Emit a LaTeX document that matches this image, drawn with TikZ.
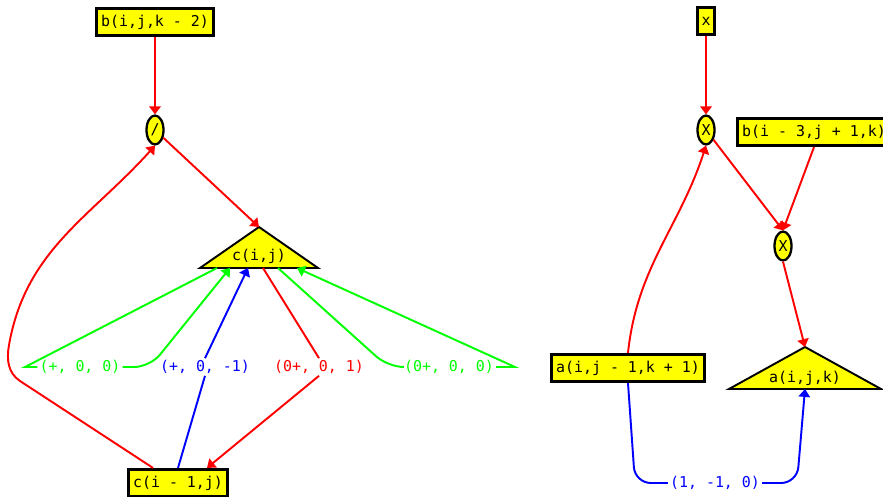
\documentclass[tikz,border=0pt]{standalone}
\usepackage{fontspec}
\setmonofont{DejaVu Sans Mono}
\usepackage{tikz}
\usetikzlibrary{
  arrows.meta,
  shapes.geometric,
  calc
}
\definecolor{boxyellow}{RGB}{255,255,0}
\definecolor{depred}{RGB}{255,0,0}
\definecolor{depgreen}{RGB}{0,255,0}
\definecolor{depblue}{RGB}{0,0,255}
\newcommand{\depfont}{\ttfamily\fontsize{8.5}{10}\selectfont}
\tikzset{
  arraybox/.style={draw, line width=1.8pt, fill=boxyellow,
    inner xsep=2.5pt, inner ysep=0pt, minimum height=0.54cm,
    font=\depfont},
  opnode/.style={draw, ellipse, line width=1.3pt, fill=boxyellow,
    inner sep=0pt, minimum width=0.34cm, minimum height=0.58cm,
    font=\depfont},
  tribox/.style={draw=black, line width=1.1pt, fill=boxyellow},
  tritext/.style={font=\depfont, inner sep=1pt},
  deplabel/.style={font=\depfont, inner sep=1pt},
  redline/.style={draw=depred, line width=1.1pt},
  greenline/.style={draw=depgreen, line width=1.1pt},
  blueline/.style={draw=depblue, line width=1.1pt},
  arr/.style={-{Triangle[length=4.5pt,width=6.5pt]}},
}

\begin{document}
\begin{tikzpicture}[x=0.02cm, y=0.02cm]
  \useasboundingbox (0,0) rectangle (883,-497);

  % Left statement: c(i,j)
  \node[arraybox] (bk) at (155,-22) {b(i,j,k - 2)};
  \node[opnode] (div) at (155,-130) {/};
  \coordinate (ctop) at (259,-227);
  \coordinate (cbase) at (259,-268);
  \filldraw[tribox] (ctop) -- ($(cbase)+(-59,0)$) -- ($(cbase)+(59,0)$) -- cycle;
  \node[tritext] (cij) at (259,-256) {c(i,j)};
  \node[arraybox] (cim) at (178,-483) {c(i - 1,j)};

  % Distance vectors
  \node[deplabel, text=depgreen] (dpp) at (80,-367) {(+, 0, 0)};
  \node[deplabel, text=depblue] (dpm) at (205,-367) {(+, 0, -1)};
  \node[deplabel, text=depred] (dzp) at (319,-367) {(0+, 0, 1)};
  \node[deplabel, text=depgreen] (dzz) at (449,-367) {(0+, 0, 0)};

  % Flow edges
  \draw[redline, arr] (bk) -- (div);
  \draw[redline, arr] (div) -- (ctop);
  \draw[redline, arr] ($(cim.north)+(-25,0)$) -- (20,-381)
    to[out=146, in=-100] (9,-345) to[out=80, in=-132] (div.south);

  % Dependences
  \draw[greenline] ($(cbase)+(-42,0)$) -- (25,-367) -- (dpp.west);
  \draw[greenline, arr, rounded corners=9pt] (dpp.east) -- (150,-367)
    -- ($(cbase)+(-29,0)$);
  \draw[blueline] (cim.north) -- (dpm.south);
  \draw[blueline, arr] (dpm.north) -- ($(cbase)+(-11,0)$);
  \draw[redline] ($(cbase)+(4,0)$) -- (dzp.north);
  \draw[redline, arr] (dzp.south) -- ($(cim.north)+(29,0)$);
  \draw[greenline, rounded corners=9pt] ($(cbase)+(19,0)$) -- (388,-367)
    -- (dzz.west);
  \draw[greenline, arr] (dzz.east) -- (515,-367) -- ($(cbase)+(38,0)$);

  % Right statement: a(i,j,k)
  \node[arraybox] (xin) at (706,-21) {x};
  \node[opnode] (mulx) at (706,-130) {X};
  \node[arraybox] (bsh) at (814,-132) {b(i - 3,j + 1,k)};
  \node[opnode] (mulb) at (783,-246) {X};
  \coordinate (atop) at (805,-347);
  \coordinate (abase) at (805,-389);
  \filldraw[tribox] (atop) -- ($(abase)+(-76,0)$) -- ($(abase)+(76,0)$) -- cycle;
  \node[tritext] (aijk) at (805,-378) {a(i,j,k)};
  \node[arraybox] (ash) at (628,-368) {a(i,j - 1,k + 1)};
  \node[deplabel, text=depblue] (dam) at (715,-483) {(1, -1, 0)};

  \draw[redline, arr] (xin) -- (mulx);
  \draw[redline, arr] (ash.north) to[out=84, in=-108] (mulx.south);
  \draw[redline, arr] (mulx) -- (mulb.north);
  \draw[redline, arr] (bsh.south) -- (mulb.north);
  \draw[redline, arr] (mulb.south) -- (atop);
  \draw[blueline, rounded corners=9pt] (ash.south) -- (635,-483) -- (dam.west);
  \draw[blueline, arr, rounded corners=9pt] (dam.east) -- (797,-483)
    -- (abase);
\end{tikzpicture}
\end{document}
